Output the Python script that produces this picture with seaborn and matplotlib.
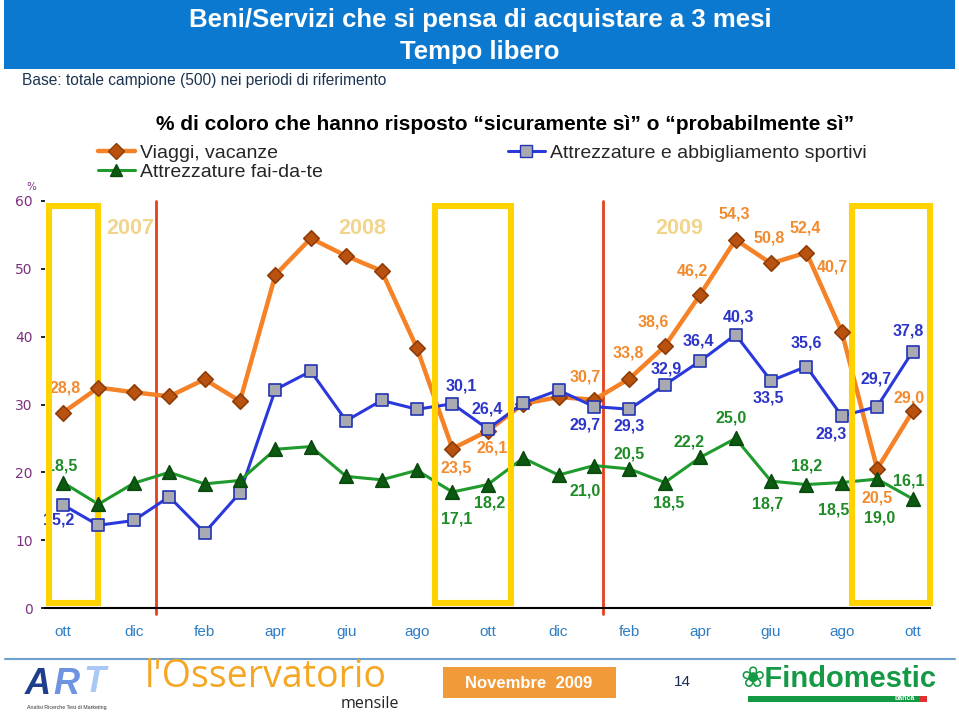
import matplotlib
matplotlib.use("Agg")
import matplotlib.pyplot as plt
import matplotlib.patches as mpatches
from matplotlib.lines import Line2D
import seaborn as sns
import pandas as pd
import numpy as np

# ---- dati ----
months = ["ott", "nov", "dic", "gen", "feb", "mar", "apr", "mag", "giu", "lug", "ago", "set",
          "ott", "nov", "dic", "gen", "feb", "mar", "apr", "mag", "giu", "lug", "ago", "set", "ott"]
viaggi = [28.8, 32.5, 31.8, 31.2, 33.7, 30.5, 49.1, 54.5, 51.9, 49.7, 38.3, 23.5,
          26.1, 30.1, 31.1, 30.7, 33.8, 38.6, 46.2, 54.3, 50.8, 52.4, 40.7, 20.5, 29.0]
sportivi = [15.2, 12.2, 12.9, 16.4, 11.1, 17.0, 32.2, 34.9, 27.6, 30.6, 29.3, 30.1,
            26.4, 30.2, 32.1, 29.7, 29.3, 32.9, 36.4, 40.3, 33.5, 35.6, 28.3, 29.7, 37.8]
faidate = [18.5, 15.3, 18.4, 20.0, 18.3, 18.8, 23.4, 23.8, 19.4, 18.9, 20.3, 17.1,
           18.2, 22.1, 19.6, 21.0, 20.5, 18.5, 22.2, 25.0, 18.7, 18.2, 18.5, 19.0, 16.1]
labelled = [0, 11, 12, 15, 16, 17, 18, 19, 20, 21, 22, 23, 24]
years = ["2007", "2008", "2009"]
series_names = ["Viaggi, vacanze", "Attrezzature e abbigliamento sportivi", "Attrezzature fai-da-te"]

W, H = 959, 713


def px(x, y):
    # pixel dell'immagine -> coordinate figura
    return x / W, 1 - y / H


sns.set_theme(style="white")
plt.rcParams['font.family'] = ['Liberation Sans', 'DejaVu Sans']

fig = plt.figure(figsize=(W / 100, H / 100), dpi=100)
x0, y0 = px(45.3, 608)
x1, y1 = px(930.3, 201)
ax = fig.add_axes([x0, y0, x1 - x0, y1 - y0])

idx = np.arange(len(months))
df = pd.DataFrame({
    "idx": np.concatenate([idx, idx, idx]),
    "valore": viaggi + sportivi + faidate,
    "serie": np.repeat(series_names, len(months)),
})

styles = {
    "Viaggi, vacanze": dict(line="#F58226", lw=3.2, marker="D", fill="#B9520F", edge="#8E3C08", s=62,
                            text="#F28A2E"),
    "Attrezzature e abbigliamento sportivi": dict(line="#2A38DC", lw=2.2, marker="s", fill="#A9A9B1",
                                                  edge="#2233B5", s=85, text="#2D35C9"),
    "Attrezzature fai-da-te": dict(line="#1F9A2C", lw=2.2, marker="^", fill="#0C5A12", edge="#0A4A0E",
                                   s=95, text="#1E8C27"),
}

# linee verticali rosse (cambio anno)
for xv in [2.63, 15.25]:
    ax.plot([xv, xv], [-0.9, 60], color="#E5401C", lw=2, zorder=1, clip_on=False)

for name in series_names:
    st = styles[name]
    sub = df[df["serie"] == name]
    sns.lineplot(data=sub, x="idx", y="valore", color=st["line"], linewidth=st["lw"],
                 ax=ax, zorder=2, legend=False)
    sns.scatterplot(data=sub, x="idx", y="valore", marker=st["marker"], color=st["fill"],
                    edgecolor=st["edge"], linewidth=1.2, s=st["s"], ax=ax, zorder=6, legend=False)

# etichette dei valori (offset in pixel)
offsets = {
    "Viaggi, vacanze": {0: (2, 25), 11: (4, -19), 12: (4, -17), 15: (-9, 23), 16: (-1, 26), 17: (-12, 24),
                        18: (-8, 24), 19: (-1, 26), 20: (-2, 25), 21: (-1, 25), 22: (-9, 65),
                        23: (0, -29), 24: (-4, 13)},
    "Attrezzature e abbigliamento sportivi": {0: (-4, -15), 11: (9, 18), 12: (-1, 20), 15: (-9, -18),
                                              16: (0, -17), 17: (1, 16), 18: (-2, 20), 19: (3, 18),
                                              20: (-3, -17), 21: (0, 24), 22: (-11, -18), 23: (-1, 28),
                                              24: (-4, 21)},
    "Attrezzature fai-da-te": {0: (-1, 17), 11: (4, -27), 12: (2, -18), 15: (-9, -25), 16: (0, 15),
                               17: (4, -20), 18: (-11, 15), 19: (-4, 20), 20: (-3, -23), 21: (0, 19),
                               22: (-8, -27), 23: (2, -39), 24: (-4, 18)},
}
values = {"Viaggi, vacanze": viaggi, "Attrezzature e abbigliamento sportivi": sportivi,
          "Attrezzature fai-da-te": faidate}
for name in series_names:
    for i in labelled:
        v = values[name][i]
        dx, dy = offsets[name][i]
        ax.annotate(f"{v:.1f}".replace(".", ","), (i, v), xytext=(dx, dy), textcoords="offset pixels",
                    ha="center", va="center", fontsize=11.5, fontweight="bold",
                    color=styles[name]["text"], zorder=3)

# riquadri gialli (ottobre)
for a, b in [(-0.40, 0.99), (10.5, 12.66), (22.3, 24.5)]:
    ax.add_patch(mpatches.Rectangle((a, 0.75), b - a, 59.3 - 0.75, fill=False, edgecolor="#FFD200",
                                    linewidth=4.4, zorder=4, clip_on=False))

# anni
for yx, lab in zip([1.9, 8.45, 17.4], years):
    ax.text(yx, 56.0, lab, ha="center", va="center", fontsize=15.5, fontweight="bold",
            color="#F2D58C", zorder=3)

ax.set_xlim(-0.5, 24.5)
ax.set_ylim(0, 60)
for sp in ["left", "top", "right"]:
    ax.spines[sp].set_visible(False)
ax.spines["bottom"].set_color("black")
ax.spines["bottom"].set_linewidth(1.5)
ax.set_xticks(idx[::2])
ax.set_xticklabels(months[::2], fontsize=11, color="#2E7DC4")
ax.set_xticks(np.arange(-0.5, 25, 1), minor=True)
ax.tick_params(axis="x", which="major", length=0, pad=12)
ax.tick_params(axis="x", which="minor", length=4, width=1.2, direction="out", color="black")
ax.set_yticks(np.arange(0, 61, 10))
ax.set_yticklabels([str(t) for t in range(0, 61, 10)], fontsize=10, color="#7E3080",
                   family="DejaVu Sans")
ax.tick_params(axis="y", length=3, width=1.2, direction="out", color="black", pad=6, left=True)
ax.set_xlabel("")
ax.set_ylabel("")
ax.grid(False)
fig.text(*px(31, 187), "%", ha="center", va="center", fontsize=7.5, color="#7E3080",
         family="DejaVu Sans")

# intestazione
fig.patches.append(mpatches.Rectangle(px(4, 69), 951 / W, 69 / H, transform=fig.transFigure,
                                      facecolor="#0B79D0", edgecolor="none", zorder=0))
fig.text(*px(480, 20), "Beni/Servizi che si pensa di acquistare a 3 mesi", ha="center", va="center",
         fontsize=18.5, fontweight="bold", color="white")
fig.text(*px(480, 52), "Tempo libero", ha="center", va="center", fontsize=18.5, fontweight="bold",
         color="white")
fig.text(*px(22, 80), "Base: totale campione (500) nei periodi di riferimento", ha="left", va="center",
         fontsize=11.2, color="#1C3350")
fig.text(*px(505, 125), "% di coloro che hanno risposto \u201csicuramente s\u00ec\u201d o \u201cprobabilmente s\u00ec\u201d",
         ha="center", va="center", fontsize=15, fontweight="bold", color="black")


def handle(name):
    st = styles[name]
    return Line2D([0], [0], color=st["line"], lw=st["lw"], marker=st["marker"], markersize=8,
                  markerfacecolor=st["fill"], markeredgecolor=st["edge"])


fig.legend([handle(series_names[0]), handle(series_names[2])], [series_names[0], series_names[2]],
           loc="upper left", bbox_to_anchor=px(98, 144), frameon=False, fontsize=14,
           handlelength=1.9, handletextpad=0.25, labelspacing=0.1, borderpad=0, borderaxespad=0)
fig.legend([handle(series_names[1])], [series_names[1]], loc="upper left", bbox_to_anchor=px(508, 144),
           frameon=False, fontsize=14, handlelength=1.9, handletextpad=0.25, borderpad=0, borderaxespad=0)

# piè di pagina
fig.add_artist(Line2D([5 / W, 955 / W], [1 - 659 / H] * 2, color="#6FA0CC", lw=1.5))
fig.text(*px(38, 684), "A", ha="center", va="center", fontsize=26, fontweight="bold", style="italic",
         color="#1F3E8C")
fig.text(*px(66, 684), "R", ha="center", va="center", fontsize=26, fontweight="bold", style="italic",
         color="#6E93E0")
fig.text(*px(95, 682), "T", ha="center", va="center", fontsize=26, fontweight="bold", style="italic",
         color="#A9C8F5")
fig.text(*px(67, 708), "Analisi Ricerche Test di Marketing", ha="center", va="center", fontsize=3.8,
         color="#333333")
fig.text(*px(145, 677), "l'Osservatorio", ha="left", va="center", fontsize=27, color="#F5A623",
         family=["Open Sans", "DejaVu Sans"])
fig.text(*px(399, 704), "mensile", ha="right", va="center", fontsize=11.5, color="#222222",
         family=["Open Sans", "DejaVu Sans"])
fig.patches.append(mpatches.Rectangle(px(443, 698), 173 / W, 31 / H, transform=fig.transFigure,
                                      facecolor="#F09A3A", edgecolor="none"))
fig.text(*px(529, 683), "Novembre  2009", ha="center", va="center", fontsize=12, fontweight="bold",
         color="white")
fig.text(*px(682, 682), "14", ha="center", va="center", fontsize=11, color="#1A2A5A")
fig.text(*px(838, 679), "\u2740Findomestic", ha="center", va="center", fontsize=21, fontweight="bold",
         color="#149A44", family=["Liberation Sans Narrow", "Liberation Sans", "DejaVu Sans"])
fig.patches.append(mpatches.Rectangle(px(748, 702), 179 / W, 6 / H, transform=fig.transFigure,
                                      facecolor="#149A44", edgecolor="none"))
fig.patches.append(mpatches.Rectangle(px(920, 702), 7 / W, 6 / H, transform=fig.transFigure,
                                      facecolor="#E03030", edgecolor="none"))
fig.text(*px(905, 699), "banca", ha="center", va="center", fontsize=5, fontweight="bold", color="white")

fig.savefig("out.png", dpi=100)
